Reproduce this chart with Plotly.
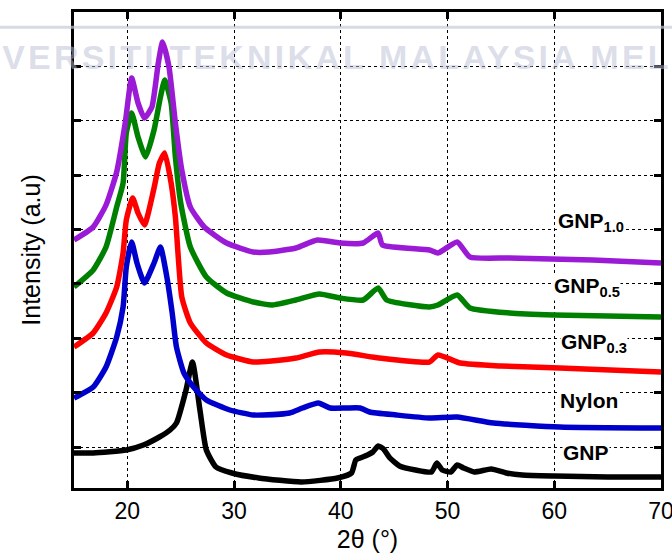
import plotly.graph_objects as go

# ---------------- data (2-theta in degrees, intensity in a.u., offset stacked) ----------------
gnp_x = [15, 16.8, 19.9, 21.5, 23.0, 24.0, 24.6, 25.5, 26.1, 26.8, 27.4, 28.3, 29.8, 32.3, 36.3,
         39.7, 41.0, 41.4, 41.8, 42.5, 43.0, 43.5, 44.0, 44.6, 45.5, 47.0, 48.5, 49.0, 49.5, 50.3,
         50.9, 51.5, 52.5, 54.1, 55.5, 57, 60, 65, 70]
gnp_y = [35, 35, 38, 43, 51, 58, 65, 98, 126, 78, 38, 21, 15, 10, 6,
         10, 15, 28, 30, 33, 36, 42, 39, 30, 22, 18, 16, 25, 18, 16,
         23, 20, 16, 19, 15, 13, 12, 11, 11]

nylon_x = [15, 16.8, 18.0, 19.0, 19.6, 19.9, 20.4, 20.9, 21.6, 22.5, 23.1, 23.7, 24.2, 24.6, 25.3,
           26.2, 27.4, 29.6, 31.8, 32.7, 35.2, 36.4, 37.9, 39.0, 40.5, 41.8, 42.7, 45.2, 48.3, 50.9,
           54.3, 60.5, 70]
nylon_y = [90, 101, 121, 151, 181, 221, 246, 225, 205, 225, 241, 211, 175, 141, 115,
           101, 88, 78, 73, 73, 75, 80, 85, 80, 80, 80, 76, 73, 70, 71,
           65, 61, 60]

gnp03_x = [15, 16.8, 18.0, 19.0, 19.6, 19.9, 20.5, 21.0, 21.6, 22.5, 23.0, 23.5, 24.1, 24.5, 25.1,
           25.9, 27.4, 29.3, 31.8, 33.5, 35.8, 38.0, 40.5, 43.6, 48.3, 49.1, 51.2, 55.0, 60.5, 70]
gnp03_y = [141, 155, 175, 201, 235, 268, 290, 275, 263, 300, 325, 335, 305, 271, 191,
           165, 145, 133, 126, 127, 130, 136, 135, 130, 126, 133, 125, 122, 120, 116]

gnp05_x = [15, 16.8, 18.0, 19.0, 19.6, 19.9, 20.4, 21.0, 21.7, 22.5, 23.1, 23.5, 24.1, 24.5, 25.0,
           25.9, 27.4, 29.3, 31.8, 33.6, 35.8, 38.0, 39.9, 42.1, 43.5, 44.3, 48.3, 49.1, 50.9, 52.1,
           55.8, 60, 70]
gnp05_y = [201, 218, 241, 281, 305, 355, 375, 351, 331, 358, 391, 408, 385, 331, 285,
           241, 211, 195, 186, 183, 188, 194, 190, 188, 200, 188, 181, 183, 193, 180,
           175, 173, 171]

gnp10_x = [15, 16.8, 18.0, 19.0, 19.8, 20.4, 21.0, 21.6, 22.3, 22.9, 23.3, 23.9, 24.5, 25.1, 25.9,
           27.2, 29.3, 31.8, 33.3, 35.8, 37.8, 39.9, 42.1, 43.5, 43.9, 48.3, 49.1, 50.9, 52.1, 55.8,
           63.6, 70]
gnp10_y = [248, 261, 283, 316, 365, 410, 385, 370, 381, 425, 446, 421, 365, 318, 281,
           261, 245, 236, 236, 240, 248, 245, 245, 255, 243, 238, 235, 246, 231, 230,
           228, 225]

series_names = ["GNP", "Nylon", "GNP0.5", "GNP0.3", "GNP1.0"]
series_x = [gnp_x, nylon_x, gnp05_x, gnp03_x, gnp10_x]
series_y = [gnp_y, nylon_y, gnp05_y, gnp03_y, gnp10_y]
series_colors = ["#000000", "#0000CC", "#008000", "#FF0000", "#9A1AD6"]

label_texts = ["GNP<sub>1.0</sub>", "GNP<sub>0.5</sub>", "GNP<sub>0.3</sub>", "Nylon", "GNP"]
label_x = [60.3, 59.9, 60.5, 60.4, 60.7]
label_y = [266, 201, 145, 88, 36]

x_ticks = [20, 30, 40, 50, 60, 70]

# ---------------- figure ----------------
fig = go.Figure()
for name, xs, ys, col in zip(series_names, series_x, series_y, series_colors):
    fig.add_trace(go.Scatter(x=xs, y=ys, mode="lines", name=name,
                             line=dict(color=col, width=5.5, shape="spline", smoothing=0.5),
                             showlegend=False))

for t, lx, ly in zip(label_texts, label_x, label_y):
    fig.add_annotation(x=lx, y=ly, xref="x", yref="y", text="<b>" + t + "</b>",
                       showarrow=False, xanchor="left", yanchor="middle",
                       font=dict(family="Liberation Sans, Arial", size=21, color="black"),
                       bgcolor="white", borderpad=0)

# faint watermark remnants
fig.add_shape(type="line", xref="paper", yref="paper", x0=-0.2, x1=1.1, y0=0.968, y1=0.968,
              line=dict(color="rgba(200,203,212,0.7)", width=3), layer="above")
fig.add_annotation(xref="paper", yref="paper", x=-0.242, y=0.906,
                   text='<span style="letter-spacing:3.2px"><b>UNIVERSITI TEKNIKAL MALAYSIA MELAKA</b></span>',
                   showarrow=False, xanchor="left", yanchor="middle",
                   font=dict(family="Liberation Sans, Arial", size=34,
                             color="rgba(185,190,212,0.5)"))

axis_common = dict(showline=True, linecolor="black", linewidth=3, mirror="ticks",
                   ticks="inside", ticklen=7, tickwidth=3, tickcolor="black",
                   showgrid=True, gridcolor="black", gridwidth=1.2, griddash="dot",
                   zeroline=False, automargin=False)

fig.update_xaxes(range=[15, 70], tickvals=x_ticks, ticklabeloverflow="allow",
                 tickfont=dict(family="Liberation Sans, Arial", size=23, color="black"),
                 title=dict(text="2θ (°)", font=dict(family="Liberation Sans, Arial", size=25,
                                                       color="black"), standoff=8),
                 **axis_common)
fig.update_yaxes(range=[0, 476], tick0=41, dtick=54.4, showticklabels=False,
                 title=dict(text="Intensity (a.u)", font=dict(family="Liberation Sans, Arial",
                                                                size=25, color="black"),
                            standoff=24),
                 **axis_common)

fig.update_layout(width=672, height=555, margin=dict(l=74, r=11, t=12, b=67),
                  plot_bgcolor="white", paper_bgcolor="white")

fig.write_html("out.html")
